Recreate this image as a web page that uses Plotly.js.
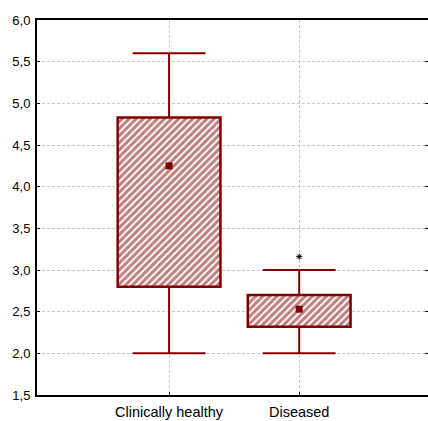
<!DOCTYPE html>
<html><head><meta charset="utf-8">
<script src="https://cdn.plot.ly/plotly-3.0.1.min.js"></script>
<style>html,body{margin:0;padding:0;background:#fff}</style>
</head><body><div id="chart" style="width:428px;height:421px"></div>
<script>
const categories = ["Clinically healthy", "Diseased"];
const minVals = [2.0, 2.0];
const q1Vals = [2.8, 2.32];
const medianVals = [4.25, 2.53];
const q3Vals = [4.83, 2.70];
const maxVals = [5.6, 3.0];
const outlierCat = [1];
const outlierVals = [3.16];
const yTicks = [1.5, 2.0, 2.5, 3.0, 3.5, 4.0, 4.5, 5.0, 5.5, 6.0];

const RED = "#800000";
const xs = categories.map((c, i) => i);
const boxW = 0.79, capHalf = 0.28;

const wx = [], wy = [];
xs.forEach((x, i) => {
  wx.push(x, x, null, x, x, null, x - capHalf, x + capHalf, null, x - capHalf, x + capHalf, null);
  wy.push(minVals[i], q1Vals[i], null, q3Vals[i], maxVals[i], null, minVals[i], minVals[i], null, maxVals[i], maxVals[i], null);
});

const traces = [
  {
    type: "bar", x: xs, base: q1Vals, y: q3Vals.map((v, i) => v - q1Vals[i]),
    width: boxW, hoverinfo: "skip",
    marker: { color: "#ffffff", line: { color: RED, width: 2.5 },
      pattern: { shape: "/", fgcolor: RED, bgcolor: "#ffffff", size: 5, solidity: 0.6, fillmode: "overlay" } }
  },
  { type: "scatter", mode: "lines", x: wx, y: wy, line: { color: RED, width: 2 }, hoverinfo: "skip" },
  { type: "scatter", mode: "markers", x: xs, y: medianVals,
    marker: { symbol: "square", size: 7, color: RED } },
  { type: "scatter", mode: "markers", x: outlierCat, y: outlierVals,
    marker: { symbol: "asterisk-open", size: 5, color: "#000", line: { color: "#333", width: 1 } } }
];

const layout = {
  width: 428, height: 421,
  margin: { l: 37, r: 0, t: 20, b: 26, pad: 0 },
  showlegend: false,
  separators: ",.",
  paper_bgcolor: "#fff", plot_bgcolor: "#fff",
  font: { family: "Liberation Sans, Arial, sans-serif", size: 13, color: "#000" },
  xaxis: {
    range: [-1.015, 1.99], tickvals: xs, ticktext: categories,
    showline: true, linecolor: "#000", linewidth: 2, mirror: true,
    ticks: "inside", ticklen: 3, tickcolor: "#000",
    showgrid: true, gridcolor: "#c8c8c8", griddash: "3px,2px", gridwidth: 1,
    zeroline: false, tickfont: { size: 14.5 }, ticklabelstandoff: 3
  },
  yaxis: {
    range: [1.5, 6.0], tickvals: yTicks, tickformat: ".1f",
    showline: true, linecolor: "#000", linewidth: 2, mirror: "ticks",
    ticks: "inside", ticklen: 3, tickcolor: "#000",
    showgrid: true, gridcolor: "#c8c8c8", griddash: "3px,2px", gridwidth: 1,
    zeroline: false, tickfont: { size: 13 }, ticklabelstandoff: 2
  }
};

Plotly.newPlot("chart", traces, layout, { displayModeBar: false, staticPlot: true });
</script></body></html>
